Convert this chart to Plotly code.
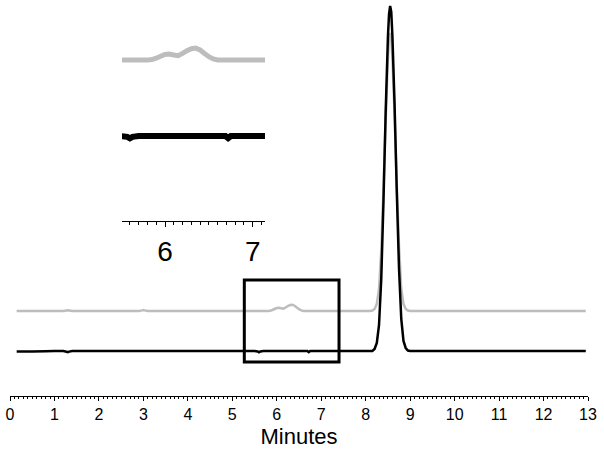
import plotly.graph_objects as go

# ---- data (time in minutes, signal in arbitrary units) ----
time = [0.15, 0.5, 0.8, 1.0, 1.2, 1.27, 1.3, 1.33, 1.4, 2.0, 2.9, 2.97, 3.0, 3.03, 3.1, 4.0, 5.0, 5.5,
        5.57, 5.6, 5.63, 5.7, 5.8, 5.85, 5.9, 5.95, 6.0, 6.05, 6.1, 6.15, 6.2, 6.25, 6.3, 6.35,
        6.4, 6.45, 6.5, 6.55, 6.6, 6.69, 6.72, 6.75, 6.8, 7.0, 7.5, 8.0, 8.1, 8.15, 8.2, 8.25,
        8.3, 8.35, 8.4, 8.45, 8.5, 8.525, 8.55, 8.575, 8.6, 8.65, 8.7, 8.75, 8.8, 8.85, 8.9, 8.95, 9.0,
        10.0, 11.0, 12.0, 12.95]

black = [-0.6, -0.6, -0.3, 0, 0, -0.8, -1.2, -0.6, 0, 0, 0, 0, 0, 0, 0, 0, 0, 0,
         -0.4, -1.2, -0.4, 0, 0, 0, 0, 0, 0, 0, 0, 0, 0, 0, 0, 0,
         0, 0, 0, 0, 0, 0, -1.1, 0, 0, 0, 0, 0, 0, 0, 2, 8,
         26, 72, 150, 240, 314, 337, 345, 339, 316, 246, 158, 82, 32, 10, 3, 0.5, 0,
         0, 0, 0, 0]

grey = [40, 40, 40, 40, 40, 40.6, 40.8, 40.6, 40, 40, 40, 40.6, 41, 40.6, 40, 40, 40, 40,
        40, 40, 40, 40, 40, 40.3, 41, 42, 43, 43.2, 42.7, 42.3, 43.5, 45, 46, 46.3,
        45.3, 43.5, 41.8, 40.6, 40.1, 40, 40, 40, 40, 40, 40, 40, 40, 40.5, 42, 47,
        62, 100, 162, 233, 293, 312, 318, 313, 294, 236, 165, 104, 62, 47, 42, 40.5, 40,
        40, 40, 40, 40]

main_ticks = list(range(0, 14))
inset_ticks = [6, 7]
zoom_box_x = [5.27, 7.40]
zoom_box_y = [-11, 71]

FONT = "Liberation Sans, Arial, sans-serif"
GREY = "#BDBDBD"

fig = go.Figure()
# main traces
fig.add_trace(go.Scatter(x=time, y=grey, mode="lines",
                         line=dict(color=GREY, width=2.5, simplify=False),
                         xaxis="x", yaxis="y", showlegend=False))
fig.add_trace(go.Scatter(x=time, y=black, mode="lines",
                         line=dict(color="black", width=2.5, simplify=False),
                         xaxis="x", yaxis="y", showlegend=False))
# inset traces (same data, zoomed)
fig.add_trace(go.Scatter(x=time, y=grey, mode="lines",
                         line=dict(color=GREY, width=5, simplify=False),
                         xaxis="x2", yaxis="y2", showlegend=False))
fig.add_trace(go.Scatter(x=time, y=black, mode="lines",
                         line=dict(color="black", width=6, simplify=False),
                         xaxis="x2", yaxis="y2", showlegend=False))

fig.add_shape(type="rect", xref="x", yref="y",
              x0=zoom_box_x[0], x1=zoom_box_x[1], y0=zoom_box_y[0], y1=zoom_box_y[1],
              line=dict(color="black", width=3), fillcolor="rgba(0,0,0,0)")

fig.update_layout(
    width=604, height=451,
    margin=dict(l=10, r=16, t=0, b=55),
    paper_bgcolor="white", plot_bgcolor="white",
    font=dict(family=FONT, color="black"),
    xaxis=dict(range=[0, 13], domain=[0, 1], tickmode="array", tickvals=main_ticks,
               ticks="outside", ticklen=4, tickwidth=1, tickcolor="black",
               minor=dict(dtick=0.1, ticks="outside", ticklen=2, tickcolor="black"),
               showline=True, linecolor="black", linewidth=1,
               showgrid=False, zeroline=False,
               tickfont=dict(size=16, family=FONT),
               title=dict(text="Minutes", font=dict(size=22, family=FONT), standoff=6)),
    yaxis=dict(range=[-45, 351], domain=[0, 1], visible=False),
    xaxis2=dict(range=[5.51, 7.14], domain=[0.1938, 0.4412], anchor="y2",
                tickmode="array", tickvals=inset_ticks,
                ticks="outside", ticklen=5, tickwidth=1, tickcolor="black",
                minor=dict(dtick=0.1, ticks="outside", ticklen=3, tickcolor="black"),
                showline=True, linecolor="black", linewidth=1,
                showgrid=False, zeroline=False,
                tickfont=dict(size=28, family=FONT), ticklabelstandoff=0),
    yaxis2=dict(range=[-44.7, 55.8], domain=[0.442, 0.924], anchor="x2", visible=False),
)

fig.write_html("out.html", config={"displayModeBar": False},
               post_script="document.body.style.margin='0px';document.body.style.padding='0px';")
